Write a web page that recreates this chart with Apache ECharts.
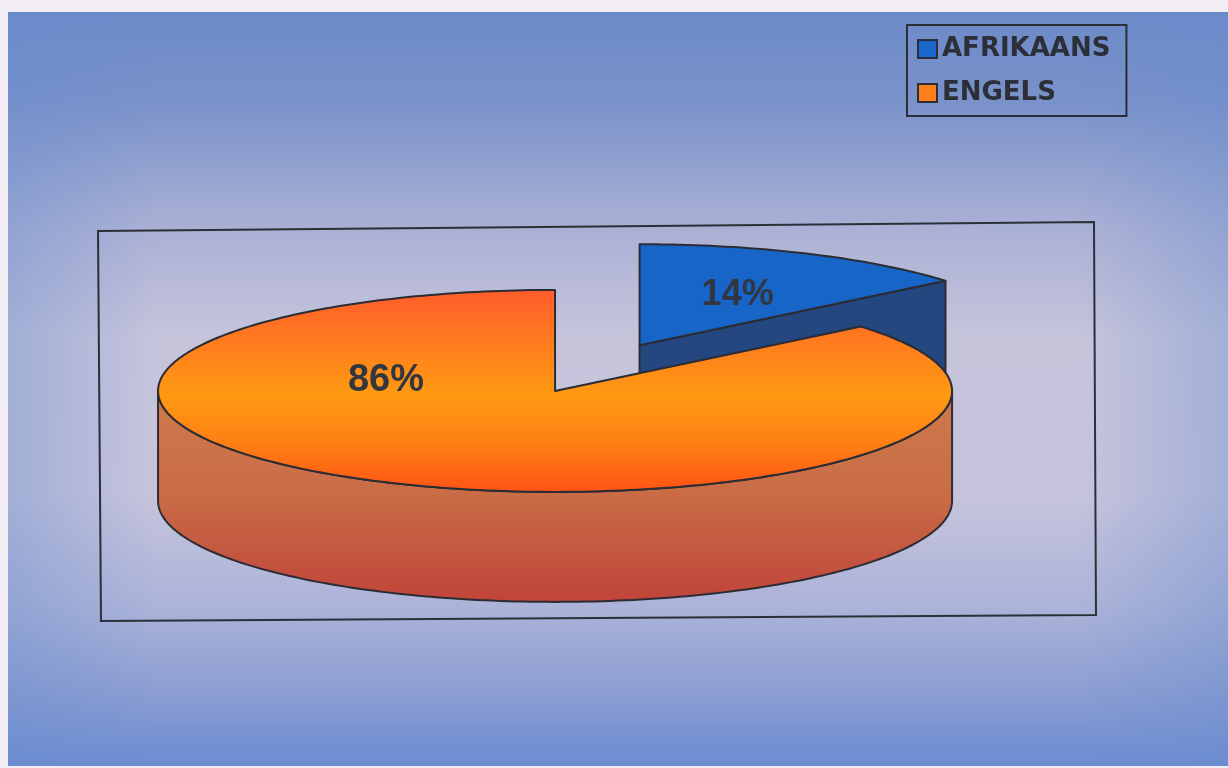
<!DOCTYPE html>
<html>
<head>
<meta charset="utf-8">
<script src="https://cdn.jsdelivr.net/npm/echarts@6/dist/echarts.min.js"></script>
<style>
  html, body { margin: 0; padding: 0; background: #f3eef6; }
  #chart { width: 1228px; height: 768px; }
</style>
</head>
<body>
<div id="chart"></div>
<script>
// Home language split (percent)
const categories = ['AFRIKAANS', 'ENGELS'];
const shares = [14, 86];

// Slice styling
const topColors = ['#1765c6', null];          // null -> orange gradient
const legendColors = ['#1a68cc', '#ff7e1c'];
const cutFaceColors = ['#24477f', '#c85a3c'];
const explode = [0.5, 0];                      // pull-out as a fraction of the radius
const labelOffset = [[0.247, -0.495], [-0.426, -0.099]]; // label spot, in radii from slice centre
const labelSize = [36, 38];

const chart = echarts.init(document.getElementById('chart'));

const strokeStyle = { stroke: '#2b2c34', lineWidth: 2, lineJoin: 'round' };

function orangeTop() {
  return {
    type: 'linear', x: 0, y: 0, x2: 0, y2: 1,
    colorStops: [
      { offset: 0, color: '#ff5c2a' },
      { offset: 0.25, color: '#ff7a1e' },
      { offset: 0.52, color: '#ff9a12' },
      { offset: 0.78, color: '#ff7c14' },
      { offset: 1, color: '#ff5216' }
    ]
  };
}
function orangeWall() {
  return {
    type: 'linear', x: 0, y: 0, x2: 0, y2: 1,
    colorStops: [
      { offset: 0, color: '#cf7a4c' },
      { offset: 0.5, color: '#c96c46' },
      { offset: 1, color: '#c0443a' }
    ]
  };
}

function renderSlice(idx) {
  return function (params, api) {
    const W = api.getWidth(), H = api.getHeight();
    const cx = W * 0.452, cy = H * 0.509;
    const rx = W * 0.3233, ry = H * 0.1315, depth = H * 0.1432;
    const total = shares.reduce((a, b) => a + b, 0);
    let before = 0;
    for (let k = 0; k < idx; k++) before += shares[k];
    const val = api.value(0);
    // start at 12 o'clock, run clockwise
    const a0 = Math.PI / 2 - 2 * Math.PI * before / total;
    const a1 = a0 - 2 * Math.PI * val / total;
    const am = (a0 + a1) / 2;
    const e = explode[idx];
    const ox = cx + e * rx * Math.cos(am);
    const oy = cy - e * ry * Math.sin(am);
    const P = (t, d) => [ox + rx * Math.cos(t), oy - ry * Math.sin(t) + d];
    const arc = (from, to, d) => {
      const n = Math.max(8, Math.ceil(Math.abs(to - from) / 0.02));
      const pts = [];
      for (let i = 0; i <= n; i++) pts.push(P(from + (to - from) * i / n, d));
      return pts;
    };
    const children = [];

    // outer wall, only the front half (sin t < 0) faces the viewer
    for (let k = -2; k <= 1; k++) {
      const lo = -Math.PI + 2 * k * Math.PI, hi = 2 * k * Math.PI;
      const s = Math.max(a1, lo), t = Math.min(a0, hi);
      if (s < t) {
        const pts = arc(t, s, 0).concat(arc(s, t, depth));
        children.push({
          type: 'polygon', shape: { points: pts },
          style: Object.assign({ fill: topColors[idx] ? cutFaceColors[idx] : orangeWall() }, strokeStyle)
        });
      }
    }

    // cut faces turned toward the viewer
    const face = (a) => ({
      type: 'polygon',
      shape: { points: [[ox, oy], P(a, 0), P(a, depth), [ox, oy + depth]] },
      style: Object.assign({ fill: cutFaceColors[idx] }, strokeStyle)
    });
    if (Math.cos(a1) > 1e-6) children.push(face(a1));
    if (Math.cos(a0) < -1e-6) children.push(face(a0));

    // top face
    const topPts = [[ox, oy]].concat(arc(a0, a1, 0));
    children.push({
      type: 'polygon', shape: { points: topPts },
      style: Object.assign({ fill: topColors[idx] || orangeTop() }, strokeStyle)
    });

    // percentage label
    children.push({
      type: 'text',
      x: ox + labelOffset[idx][0] * rx,
      y: oy + labelOffset[idx][1] * ry,
      style: {
        text: Math.round(val / total * 100) + '%',
        fill: '#313640',
        font: 'bold ' + labelSize[idx] + 'px "Liberation Sans", Arial, sans-serif',
        align: 'center', verticalAlign: 'middle'
      }
    });

    return { type: 'group', children: children };
  };
}

const option = {
  animation: false,
  graphic: [
    {
      type: 'rect', z: -10, silent: true,
      shape: { x: 8, y: 12, width: 1220, height: 754 },
      style: {
        fill: {
          type: 'linear', x: 0, y: 0, x2: 0, y2: 1,
          colorStops: [
            { offset: 0, color: '#6c8ac8' },
            { offset: 0.12, color: '#7a92ca' },
            { offset: 0.29, color: '#abb1d5' },
            { offset: 0.43, color: '#c5c4db' },
            { offset: 0.64, color: '#c6c4dc' },
            { offset: 0.79, color: '#abb3d8' },
            { offset: 0.9, color: '#8c9ed2' },
            { offset: 1, color: '#6c8cd2' }
          ]
        }
      }
    },
    {
      type: 'rect', z: -9, silent: true,
      shape: { x: 8, y: 12, width: 1220, height: 754 },
      style: {
        fill: {
          type: 'linear', x: 0, y: 0, x2: 1, y2: 0,
          colorStops: [
            { offset: 0, color: 'rgba(104,140,206,0.38)' },
            { offset: 0.12, color: 'rgba(104,140,206,0)' },
            { offset: 0.88, color: 'rgba(104,140,206,0)' },
            { offset: 1, color: 'rgba(104,140,206,0.36)' }
          ]
        }
      }
    },
    {
      // plot area frame
      type: 'polygon', z: -5, silent: true,
      shape: { points: [[98, 231], [1094, 222], [1096, 615], [101, 621]] },
      style: { fill: 'none', stroke: '#2b3038', lineWidth: 2 }
    }
  ],
  legend: {
    orient: 'vertical', left: 907, top: 25,
    padding: [11, 16, 10, 10],
    itemWidth: 19, itemHeight: 18, itemGap: 18, icon: 'rect',
    borderColor: '#2b2e36', borderWidth: 2,
    itemStyle: { borderColor: '#2b2e36', borderWidth: 2 },
    textStyle: {
      fontFamily: 'DejaVu Sans', fontWeight: 'bold', fontSize: 26,
      color: '#2c2f37', lineHeight: 26
    },
    selectedMode: false,
    data: categories
  },
  series: categories.map((name, i) => ({
    type: 'custom',
    name: name,
    coordinateSystem: 'none',
    silent: true,
    z: 2 + i,
    itemStyle: { color: legendColors[i] },
    data: [[shares[i]]],
    renderItem: renderSlice(i)
  }))
};

chart.setOption(option);
</script>
</body>
</html>
